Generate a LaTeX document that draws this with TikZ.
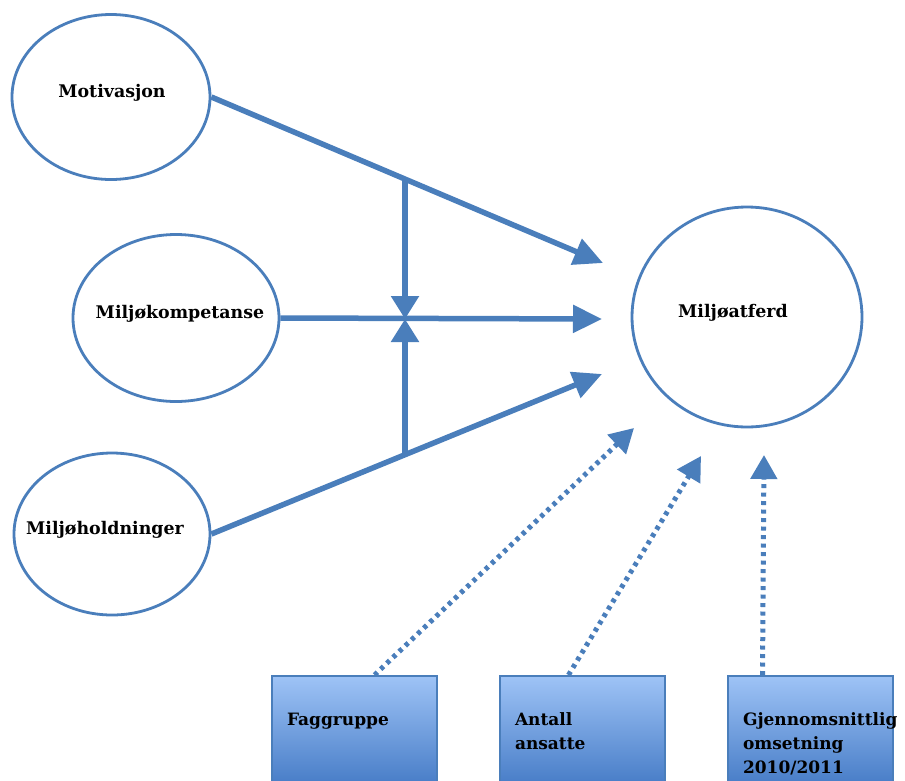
\documentclass[tikz,border=0pt]{standalone}
\usepackage{fontspec}
\setmainfont{DejaVu Serif}
\usetikzlibrary{arrows.meta,shapes.geometric,calc}
\definecolor{lb}{HTML}{4A7EBB}
\definecolor{boxtop}{HTML}{9EC3F6}
\definecolor{boxbot}{HTML}{3A72C0}
\newcommand\ovtext[2]{\makebox[0pt]{\kern#1\smash{#2}\kern-#1}}
\begin{document}
\begin{tikzpicture}[x=1pt,y=-1pt,
  oval/.style={ellipse, draw=lb, line width=2.8pt, fill=white, inner sep=0pt,
    font=\fontsize{17.4}{20}\selectfont\bfseries},
  flow/.style={draw=lb, line width=5.5pt, -{Triangle[length=29pt,width=27pt]}},
  modline/.style={draw=lb, line width=5.5pt, -{Triangle[length=23pt,width=27pt]}},
  ctrl/.style={draw=lb, line width=5pt, dash pattern=on 4pt off 4.5pt,
    -{Triangle[length=24pt,width=26pt]}},
  fbox/.style={draw=lb, line width=2.4pt, top color=boxtop, bottom color=boxbot,
    anchor=north, minimum width=165pt, text width=135pt, align=left,
    inner xsep=15pt, inner ysep=36pt, text height=13pt, text depth=40pt,
    font=\fontsize{17}{24}\selectfont\bfseries}
]
\useasboundingbox (0,0) rectangle (905,780);
\clip (0,0) rectangle (905,780);

% ellipses
\node[oval, minimum width=198pt, minimum height=165pt] (mot) at (111,97) {\ovtext{1pt}{Motivasjon}};
\node[oval, minimum width=206pt, minimum height=167pt] (komp) at (176,318) {\ovtext{4pt}{Miljøkompetanse}};
\node[oval, minimum width=196pt, minimum height=162pt] (hold) at (112,534) {\ovtext{-7pt}{Miljøholdninger}};
\node[oval, minimum width=230pt, minimum height=220pt] (atf) at (747,317) {\ovtext{-14pt}{Miljøatferd}};

% boxes
\node[fbox] (b1) at (354.5,675) {Faggruppe};
\node[fbox] (b2) at (582.5,675) {Antall\\ansatte};
\node[fbox] (b3) at (810.5,675) {\mbox{Gjennomsnittlig}\\omsetning\\2010/2011};

% arrow end points
\coordinate (tA) at (603,263);
\coordinate (tB) at (602,319);
\coordinate (tC) at (602,374);
\coordinate (cross) at (405,319);
\coordinate (vt) at (405,181);
\coordinate (vb) at (405,454);
\coordinate (dA) at (634,428);
\coordinate (dB) at (701,456);
\coordinate (dC) at (764,455);

% main arrows
\draw[flow] (mot.east) -- (tA);
\draw[flow] (komp.east) -- (tB);
\draw[flow] (hold.east) -- (tC);

% moderator arrows
\draw[modline] (vt) -- (cross);
\draw[modline] (vb) -- (cross);

% control variables
\draw[ctrl] ([xshift=20pt]b1.north) -- (dA);
\draw[ctrl] ([xshift=-14pt]b2.north) -- (dB);
\draw[ctrl] ([xshift=-48pt]b3.north) -- (dC);
\end{tikzpicture}
\end{document}
